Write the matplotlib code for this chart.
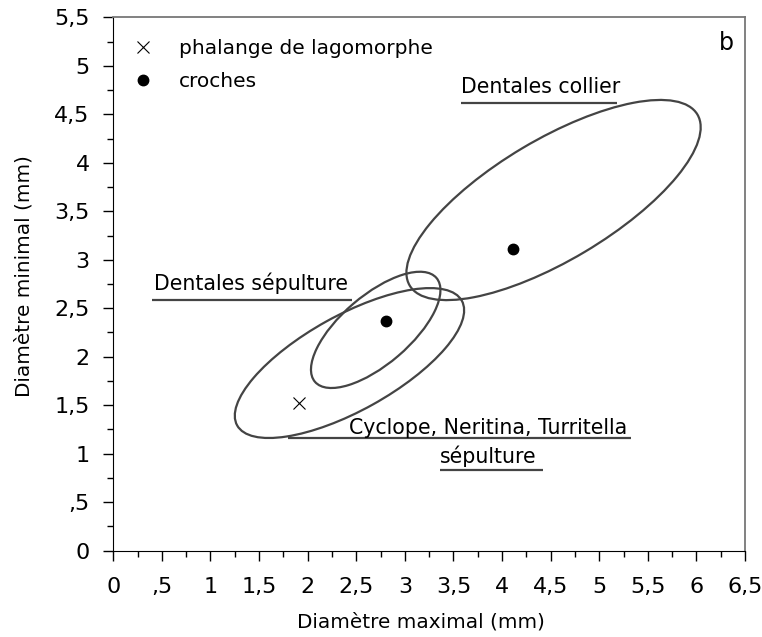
import matplotlib
matplotlib.use("Agg")
import matplotlib.pyplot as plt
from matplotlib.patches import Ellipse
from matplotlib.ticker import MultipleLocator, FuncFormatter

# points
lago_x = [1.91]
lago_y = [1.52]
croches_x = [2.81, 4.11]
croches_y = [2.37, 3.11]

# ellipses: centre x, centre y, largeur, hauteur, angle
ell_names = ["Dentales collier", "Dentales sépulture", "Cyclope"]
ell_cx = [4.53, 2.70, 2.43]
ell_cy = [3.616, 2.277, 1.935]
ell_w = [3.446, 1.646, 2.645]
ell_h = [1.247, 0.709, 0.981]
ell_ang = [30.8, 40.6, 29.1]

GREY = "#444444"

plt.rcParams["font.family"] = "DejaVu Sans"

fig = plt.figure(figsize=(7.62, 6.37), dpi=100)
ax = fig.add_axes([0.1487, 0.1355, 0.829, 0.8373])

for cx, cy, w, h, a in zip(ell_cx, ell_cy, ell_w, ell_h, ell_ang):
    ax.add_patch(Ellipse((cx, cy), w, h, angle=a, fill=False,
                         edgecolor=GREY, linewidth=1.6, zorder=2))

ax.plot(lago_x, lago_y, "x", color="black", markersize=9, markeredgewidth=0.8,
        linestyle="none", label="phalange de lagomorphe", zorder=3)
ax.plot(croches_x, croches_y, "o", color="black", markersize=7.5,
        linestyle="none", label="croches", zorder=3)

# étiquettes soulignées
FS = 14.8
ax.text(0.42, 2.76, "Dentales sépulture", fontsize=FS, va="center", ha="left")
ax.hlines(2.59, 0.40, 2.46, color=GREY, linewidth=1.6)

ax.text(3.58, 4.78, "Dentales collier", fontsize=FS, va="center", ha="left")
ax.hlines(4.62, 3.58, 5.18, color=GREY, linewidth=1.6)

ax.text(3.855, 1.262, "Cyclope, Neritina, Turritella", fontsize=FS,
        va="center", ha="center")
ax.hlines(1.159, 1.80, 5.33, color=GREY, linewidth=1.6)
ax.text(3.855, 0.969, "sépulture", fontsize=FS, va="center", ha="center")
ax.hlines(0.832, 3.36, 4.42, color=GREY, linewidth=1.6)

ax.text(0.983, 0.951, "b", transform=ax.transAxes, fontsize=17,
        ha="right", va="center")

ax.set_xlim(0, 6.5)
ax.set_ylim(0, 5.5)
ax.xaxis.set_major_locator(MultipleLocator(0.5))
ax.xaxis.set_minor_locator(MultipleLocator(0.25))
ax.yaxis.set_major_locator(MultipleLocator(0.5))
ax.yaxis.set_minor_locator(MultipleLocator(0.25))


def fr_fmt(v, pos):
    s = f"{v:g}".replace(".", ",")
    if s.startswith("0,"):
        s = s[1:]
    return s


ax.xaxis.set_major_formatter(FuncFormatter(fr_fmt))
ax.yaxis.set_major_formatter(FuncFormatter(fr_fmt))
ax.tick_params(which="major", direction="out", length=7, width=1,
               labelsize=16)
ax.tick_params(axis="x", which="major", pad=12)
ax.tick_params(axis="y", which="major", pad=10)
ax.tick_params(which="minor", direction="out", length=4, width=1)

ax.spines["left"].set_color("black")
ax.spines["bottom"].set_color("black")
for s in ("top", "right"):
    ax.spines[s].set_color("#777777")
    ax.spines[s].set_linewidth(1.3)

ax.set_xlabel("Diamètre maximal (mm)", fontsize=14.4)
ax.set_ylabel("Diamètre minimal (mm)", fontsize=14.4)
ax.xaxis.set_label_coords(0.487, -0.115)
ax.yaxis.set_label_coords(-0.127, 0.515)

ax.legend(loc="upper left", bbox_to_anchor=(-0.0095, 1.003), frameon=False,
          fontsize=14.5, handlelength=1.2, handletextpad=1.2,
          labelspacing=0.7, borderaxespad=0.75, borderpad=0.4)

fig.savefig("out.png", dpi=100)
